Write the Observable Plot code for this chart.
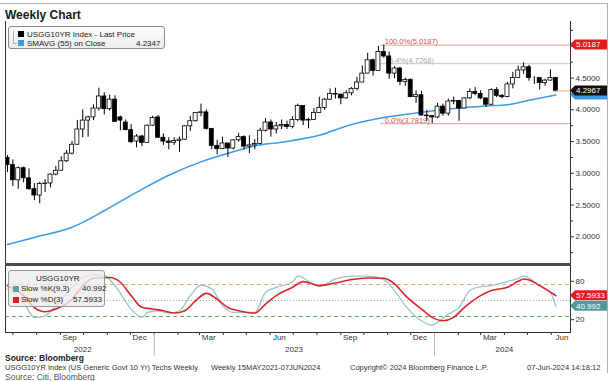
<!DOCTYPE html>
<html><head><meta charset="utf-8">
<script src="https://cdn.jsdelivr.net/npm/d3@7"></script>
<script src="https://cdn.jsdelivr.net/npm/@observablehq/plot@0.6"></script>
<style>
body{margin:0;background:#fff;font-family:"Liberation Sans",Arial,sans-serif;}
#wrap{position:relative;width:611px;height:381px;overflow:hidden;background:#fff;}
.t{position:absolute;white-space:nowrap;color:#222;}
.d{position:absolute;}
</style></head><body><div id="wrap"></div>
<script>
// ---- data ----
const firstWeek = "2022-06-24", lastWeek = "2024-06-07";
const open  = [3.24,3.13,2.89,3.08,2.92,2.75,2.65,2.83,2.84,2.98,3.04,3.19,3.31,3.45,3.69,3.83,3.88,4.02,4.21,4.01,4.16,3.88,3.80,3.68,3.50,3.58,3.48,3.75,
 3.88,3.56,3.50,3.48,3.51,3.53,3.74,3.82,3.95,3.96,3.70,3.43,3.38,3.47,3.39,3.52,3.57,3.42,3.44,3.46,3.67,3.80,3.69,3.74,3.76,3.73,3.84,4.06,3.83,3.84,3.95,4.03,4.16,4.25,4.24,4.18,4.26,4.33,4.43,4.57,4.78,4.61,4.91,4.84,4.57,4.65,4.44,4.47,4.20,4.23,3.91,3.90,
 3.88,4.05,3.94,4.13,4.14,4.02,4.18,4.28,4.25,4.18,4.08,4.31,4.22,4.20,4.40,4.50,4.62,4.67,4.50,4.50,4.42,4.46,4.50];
const high  = [3.28,3.21,3.10,3.10,3.07,2.84,2.86,2.90,2.99,3.11,3.26,3.36,3.50,3.83,4.00,3.90,4.08,4.34,4.27,4.23,4.22,3.90,3.84,3.77,3.61,3.60,3.76,3.90,
 3.91,3.62,3.56,3.56,3.57,3.75,3.90,3.96,4.09,4.00,3.70,3.52,3.57,3.47,3.53,3.63,3.59,3.59,3.53,3.71,3.86,3.84,3.80,3.84,3.82,3.89,4.09,4.06,3.87,4.02,4.20,4.18,4.33,4.34,4.24,4.30,4.35,4.51,4.69,4.89,4.80,5.00,5.0187,4.91,4.68,4.67,4.50,4.49,4.30,4.29,3.99,3.91,
 4.10,4.09,4.17,4.20,4.15,4.19,4.33,4.35,4.30,4.18,4.33,4.35,4.24,4.43,4.59,4.69,4.74,4.70,4.52,4.50,4.48,4.63,4.51];
const low   = [3.01,2.79,2.75,2.85,2.73,2.57,2.52,2.70,2.77,2.96,3.03,3.17,3.29,3.44,3.56,3.57,3.83,3.98,3.92,3.98,3.81,3.67,3.67,3.47,3.40,3.42,3.47,3.74,
 3.55,3.44,3.37,3.44,3.33,3.52,3.66,3.81,3.89,3.68,3.37,3.29,3.37,3.25,3.37,3.49,3.37,3.31,3.37,3.45,3.65,3.57,3.62,3.69,3.69,3.70,3.81,3.75,3.70,3.83,3.95,3.99,4.15,4.17,4.08,4.17,4.22,4.30,4.43,4.57,4.53,4.61,4.81,4.48,4.49,4.38,4.37,4.19,4.10,3.90,3.82,3.7819,
 3.86,3.90,3.90,4.08,3.82,4.02,4.16,4.22,4.16,4.04,4.07,4.19,4.17,4.19,4.33,4.50,4.56,4.45,4.40,4.31,4.37,4.45,4.28];
const close = [3.13,2.89,3.08,2.92,2.75,2.65,2.83,2.84,2.98,3.04,3.19,3.31,3.45,3.69,3.83,3.88,4.02,4.21,4.01,4.16,3.81,3.83,3.68,3.49,3.58,3.48,3.75,3.87,
 3.56,3.50,3.48,3.51,3.53,3.74,3.82,3.95,3.96,3.70,3.43,3.38,3.47,3.39,3.52,3.57,3.42,3.44,3.46,3.67,3.80,3.69,3.74,3.76,3.73,3.84,4.06,3.83,3.84,3.95,4.03,4.16,4.25,4.24,4.18,4.26,4.33,4.43,4.57,4.78,4.61,4.91,4.84,4.57,4.65,4.44,4.47,4.20,4.23,3.91,3.90,3.88,
 4.05,3.94,4.13,4.14,4.02,4.18,4.28,4.25,4.18,4.08,4.31,4.22,4.20,4.40,4.50,4.62,4.67,4.50,4.50,4.42,4.46,4.50,4.2967];

const smaDates  = ["2022-06-24","2022-07-29","2022-09-16","2022-10-28","2022-12-09","2023-01-20","2023-03-03","2023-04-14","2023-05-12","2023-06-16","2023-08-04","2023-09-15","2023-10-27","2023-12-08","2024-01-26","2024-03-08","2024-04-05","2024-05-03","2024-06-07"];
const smaValues = [1.88,1.99,2.15,2.41,2.70,2.97,3.18,3.34,3.43,3.49,3.60,3.77,3.88,3.95,4.02,4.06,4.08,4.15,4.2347];

const kDates = ["2022-06-24","2022-07-15","2022-07-29","2022-08-12","2022-08-26","2022-09-16","2022-09-30","2022-10-14","2022-10-28","2022-11-11","2022-12-02","2022-12-16","2022-12-23","2023-01-06","2023-01-20","2023-02-03","2023-02-17","2023-03-03","2023-03-17","2023-03-31","2023-04-14","2023-05-05","2023-05-12","2023-05-26","2023-06-09","2023-06-30","2023-07-07","2023-08-04","2023-08-25","2023-09-15","2023-10-06","2023-10-27","2023-11-10","2023-11-24","2023-12-15","2023-12-29","2024-01-05","2024-01-19","2024-02-02","2024-02-16","2024-03-01","2024-03-15","2024-03-29","2024-04-19","2024-04-26","2024-05-17","2024-05-31","2024-06-07"];
const kValues = [68,47,23.6,26,42,70.6,86,90,89,73,36.6,23.6,31.4,34,30.4,34,57.6,74,68,42,31.4,31.4,31.4,62.8,70.6,78.5,88,72,83.7,88,88,82.7,65.5,42,18.4,11.5,15.8,28.8,39.3,65.5,71.7,73.3,77.4,84.7,88,73.3,62.8,40.992];
const dDates = ["2022-06-24","2022-07-15","2022-07-29","2022-08-12","2022-08-26","2022-09-16","2022-09-30","2022-10-14","2022-11-04","2022-11-18","2022-12-02","2022-12-16","2022-12-30","2023-01-13","2023-01-27","2023-02-10","2023-02-24","2023-03-10","2023-03-24","2023-04-07","2023-04-21","2023-05-12","2023-05-26","2023-06-09","2023-06-30","2023-07-14","2023-08-04","2023-08-25","2023-09-15","2023-10-06","2023-10-27","2023-11-10","2023-11-24","2023-12-15","2023-12-29","2024-01-12","2024-01-26","2024-02-09","2024-03-01","2024-03-15","2024-04-05","2024-04-19","2024-04-26","2024-05-03","2024-05-17","2024-05-31","2024-06-07"];
const dValues = [73,57.6,39,32.5,36.6,52,73,84.7,86,78.5,57.6,39.3,36.6,34,30.4,34,49.8,61.2,52,39,34,30.4,44.5,57.6,70.6,79.5,73.3,77.4,82.7,85.2,84.7,75.8,57.6,36.6,23.6,18.4,23.6,39.3,57.6,65.5,70.6,80,83.6,82,73.3,63,57.5933];

const fibLabels = ["100.0%(5.0187)","76.4%(4.7268)","0.0%(3.7819)"];
const fibValues = [5.0187,4.7268,3.7819];
const fibStart = "2023-10-23";
const stochLevels = [75,50,25];

const yTicks = [2.0,2.5,3.0,3.5,4.0,4.5];
const yMinorTicks = [1.75,2.25,2.75,3.25,3.75,4.25,4.75,5.0,5.25];
const stochTicks = [20,80];
const monthLabels = ["Sep","Dec","Mar","Jun","Sep","Dec","Mar","Jun"];
const monthLabelDates = ["2022-09-13","2022-12-13","2023-03-13","2023-06-13","2023-09-13","2023-12-13","2024-03-13","2024-06-15"];
const yearLabels = ["2022","2023","2024"];
const yearLabelDates = ["2022-09-30","2023-07-02","2024-04-01"];
const yearStarts = ["2023-01-01","2024-01-01"];

const smaLast = "4.2347", kLast = "40.992", dLast = "57.5933", priceHigh = "5.0187", priceLast = "4.2967";

// ---- build ----
const P = s => new Date(s);
const weeks = d3.utcFriday.range(P(firstWeek), d3.utcDay.offset(P(lastWeek), 1));
const candles = weeks.map((date, i) => ({date, open: open[i], high: high[i], low: low[i], close: close[i]}));
const sma = smaDates.map((d, i) => ({date: P(d), value: smaValues[i]}));
const kRows = kDates.map((d, i) => ({date: P(d), value: kValues[i]}));
const dRows = dDates.map((d, i) => ({date: P(d), value: dValues[i]}));
const fibRows = fibLabels.map((label, i) => ({label, value: fibValues[i], color: i === 1 ? "#c8c8c8" : "#dca0a0", tcolor: i === 1 ? "#a8a8a8" : "#d2504a"}));
const xDomain = [new Date("2022-06-21T10:00Z"), new Date("2024-06-26T02:00Z")];
const half = 2.6 * 864e5;
const FONT = "Liberation Sans, Arial, sans-serif";

const wrap = document.getElementById("wrap");

const main = Plot.plot({
  width: 611, height: 266,
  marginLeft: 5, marginRight: 41, marginTop: 22, marginBottom: 1,
  style: {position: "absolute", left: "0px", top: "0px", background: "transparent", overflow: "visible", fontFamily: FONT, fontSize: "8px", color: "#333"},
  x: {type: "utc", domain: xDomain, axis: null},
  y: {domain: [1.548, 5.375], axis: null},
  marks: [
    Plot.ruleY(fibRows, {y: "value", x1: () => P(fibStart), x2: () => xDomain[1], stroke: "color", strokeWidth: 1}),
    Plot.text(fibRows, {y: "value", x: () => P(fibStart), text: "label", fill: "tcolor", textAnchor: "start", lineAnchor: "bottom", dx: 4, dy: -1, fontSize: 7.5}),
    Plot.line(sma, {x: "date", y: "value", stroke: "#3d9be9", strokeWidth: 1.5, curve: "monotone-x"}),
    Plot.ruleX(candles, {x: "date", y1: "low", y2: "high", stroke: "#000", strokeWidth: 1, clip: true}),
    Plot.rect(candles, {x1: d => new Date(+d.date - half), x2: d => new Date(+d.date + half), y1: "open", y2: "close",
      fill: d => d.close < d.open ? "#000" : "#fff", stroke: "#000", strokeWidth: 0.8, clip: true}),
    Plot.ruleY([candles[candles.length - 1]], {y: "close", x1: "date", x2: () => xDomain[1], stroke: "#e8b84a", strokeWidth: 1}),
    Plot.axisY({anchor: "right", label: null, ticks: yMinorTicks, tickSize: 2, tickFormat: () => "", stroke: "#333"}),
    Plot.axisY({anchor: "right", label: null, ticks: yTicks, tickSize: 3, tickPadding: 2, tickFormat: d => d.toFixed(4), stroke: "#333", fill: "#333"})
  ]
});
wrap.appendChild(main);

const monthMap = new Map(monthLabelDates.map((d, i) => [+P(d), monthLabels[i]]));
const yearMap = new Map(yearLabelDates.map((d, i) => [+P(d), yearLabels[i]]));
const monthStarts = d3.utcMonth.range(xDomain[0], xDomain[1]);

const stoch = Plot.plot({
  width: 611, height: 90,
  marginLeft: 5, marginRight: 41, marginTop: 2, marginBottom: 24,
  style: {position: "absolute", left: "0px", top: "266px", background: "transparent", overflow: "visible", fontFamily: FONT, fontSize: "8px", color: "#333"},
  x: {type: "utc", domain: xDomain, axis: null},
  y: {domain: [0, 100], axis: null},
  marks: [
    Plot.ruleY([stochLevels[0]], {stroke: "#e6a890", strokeDasharray: "4,3"}),
    Plot.ruleY([stochLevels[1]], {stroke: "#8fb4c8", strokeDasharray: "1,2"}),
    Plot.ruleY([stochLevels[2]], {stroke: "#6aa56a", strokeDasharray: "4,3"}),
    Plot.line(kRows, {x: "date", y: "value", stroke: "#9cc4c4", strokeWidth: 1.3, curve: "monotone-x"}),
    Plot.line(dRows, {x: "date", y: "value", stroke: "#d8262b", strokeWidth: 1.6, curve: "monotone-x"}),
    Plot.axisY({anchor: "right", label: null, ticks: stochTicks, tickSize: 3, tickPadding: 2, tickFormat: d => String(d)}),
    Plot.axisX({label: null, ticks: monthStarts, tickSize: 3, tickFormat: () => ""}),
    Plot.axisX({label: null, ticks: monthLabelDates.map(P), tickSize: 0, tickPadding: 2, tickFormat: d => monthMap.get(+d)}),
    Plot.axisX({label: null, ticks: yearLabelDates.map(P), tickSize: 0, tickPadding: 14, tickFormat: d => yearMap.get(+d)}),
    Plot.ruleX(yearStarts.map(P), {y1: 0, y2: -37, stroke: "#b8b8b8"})
  ]
});
wrap.appendChild(stoch);

// value tags on the right axis, placed with the plots' own scales
function tag(svg, scale, value, text, fill) {
  const yc = scale.apply(value);
  const g = d3.select(svg).append("g").attr("text-anchor", "start");
  g.append("path").attr("d", `M570,${yc}L575,${yc - 5}L607,${yc - 5}L607,${yc + 5}L575,${yc + 5}Z`).attr("fill", fill);
  if (text) g.append("text").attr("x", 576).attr("y", yc).attr("dy", "0.35em").attr("fill", "#fff")
    .attr("text-anchor", "start").style("font-size", "8px").style("font-family", FONT).text(text);
}
const ys = main.scale("y"), ss = stoch.scale("y");
tag(main, ys, +smaLast, null, "#3d9be9");
tag(main, ys, +priceLast, priceLast, "#111");
tag(main, ys, +priceHigh, priceHigh, "#e31b23");
tag(stoch, ss, +dLast, dLast, "#e31b23");
tag(stoch, ss, +kLast, kLast, "#4f9a9c");

// ---- decorations, legends and texts ----
function box(left, top, w, h, css) {
  const d = document.createElement("div"); d.className = "d";
  Object.assign(d.style, {left: left + "px", top: top + "px", width: w + "px", height: h + "px"}, css || {});
  wrap.appendChild(d); return d;
}
function txt(s, left, baseline, fs, css) {
  const d = document.createElement("div"); d.className = "t"; d.textContent = s;
  Object.assign(d.style, {left: left + "px", top: (baseline - 0.847 * fs) + "px", fontSize: fs + "px", lineHeight: fs + "px"}, css || {});
  wrap.appendChild(d); return d;
}
box(0, 3, 608, 1, {background: "#b0b0b0"});
box(607, 3, 1, 370, {background: "#b0b0b0"});
box(5, 21, 1, 311, {background: "#333"});
box(570, 21, 1, 311, {background: "#333"});
box(5, 263, 566, 3, {background: "#4a4a4a"});
box(5, 332, 566, 1, {background: "#333"});
txt("Weekly Chart", 5, 19, 12, {fontWeight: "bold", color: "#1a1a1a"});

box(8, 26, 157, 23, {border: "1px solid #8c8c8c", borderRadius: "3px", background: "linear-gradient(#fefefe,#ececec)", boxSizing: "border-box"});
box(13, 31, 1, 13, {background: "#b0b0b0"});
box(13, 43, 4, 1, {background: "#b0b0b0"});
box(18, 31, 6, 6, {background: "#000"});
box(18, 40, 6, 6, {background: "#3d9be9"});
txt("USGG10YR Index - Last Price", 27, 37.5, 8);
txt("SMAVG (55)  on Close", 27, 46.5, 8);
txt(smaLast, 136, 46.5, 8);

box(8, 270, 97, 37, {border: "1px solid #9a9a9a", borderRadius: "3px", background: "rgba(236,236,236,0.78)", boxSizing: "border-box"});
txt("USGG10YR", 36, 282, 8);
box(13, 286, 6, 6, {background: "#5ea3a3"});
box(13, 296.5, 6, 6, {background: "#e31b23"});
txt("Slow %K(9,3)", 21, 292, 8);
txt(kLast, 82, 292, 8);
txt("Slow %D(3)", 21, 302.5, 8);
txt(dLast, 73, 302.5, 8);

txt("Source: Bloomberg", 5, 361.5, 8.5, {fontWeight: "bold"});
txt("USGG10YR Index (US Generic Govt 10 Yr) Techs Weekly", 5, 370.8, 7.5, {color: "#333"});
txt("Weekly 15MAY2021-07JUN2024", 211, 370.8, 7.5, {color: "#333"});
txt("Copyright\u00a9 2024 Bloomberg Finance L.P.", 350, 370.8, 7.5, {color: "#333"});
txt("07-Jun-2024 14:18:12", 527, 370.8, 7.5, {color: "#333"});
txt("Source: Citi, Bloomberg", 5, 379.8, 8.5, {color: "#555"});
</script></body></html>
